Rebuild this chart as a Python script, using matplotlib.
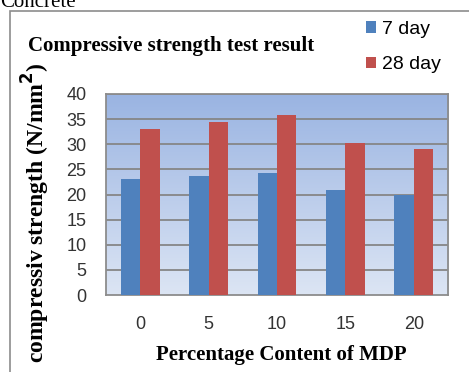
import matplotlib
matplotlib.use('Agg')
import matplotlib.pyplot as plt
import numpy as np
from matplotlib.patches import Rectangle

categories = ['0', '5', '10', '15', '20']
day7 = [23.0, 23.7, 24.3, 20.8, 20.0]
day28 = [33.0, 34.5, 35.8, 30.2, 29.1]
yticks = [0, 5, 10, 15, 20, 25, 30, 35, 40]

serif = ['Liberation Serif', 'DejaVu Serif']
sans = ['Liberation Sans', 'DejaVu Sans']

fig = plt.figure(figsize=(4.69, 3.72), dpi=100)
ax = fig.add_axes([106/469, 77/372, 342/469, 201/372])

# outer frame of the chart object
fig.patches.append(Rectangle((10/469, -0.1), 1.2, (372-11)/372 + 0.1,
                             transform=fig.transFigure, fill=False,
                             edgecolor='#8c8c8c', linewidth=1.2))

# gradient plot background (dark at top, light at bottom)
grad = np.linspace(0, 1, 256).reshape(-1, 1)
cmap = matplotlib.colors.LinearSegmentedColormap.from_list('bg', ['#9ab4e2', '#dce5f4'])
ax.imshow(grad, cmap=cmap, aspect='auto', extent=[-0.5, 4.5, 0, 40],
          origin='upper', zorder=0, interpolation='bilinear')

x = np.arange(len(categories))
w = 0.283
ax.bar(x - w/2, day7, width=w, color='#4f81bd', label='7 day', zorder=3)
ax.bar(x + w/2, day28, width=w, color='#c0504d', label='28 day', zorder=3)

ax.set_xlim(-0.5, 4.5)
ax.set_ylim(0, 40)
ax.set_yticks(yticks)
for y in yticks[1:]:
    ax.axhline(y, color='#868686', linewidth=1.3, zorder=2)
ax.set_xticks(x)
ax.set_xticklabels(categories)
ax.tick_params(length=0, labelsize=13)
ax.tick_params(axis='y', pad=14)
ax.tick_params(axis='x', pad=15)
for lab in ax.get_xticklabels() + ax.get_yticklabels():
    lab.set_family(sans)
    lab.set_color('#333333')
for s in ax.spines.values():
    s.set_color('#8c8c8c')
    s.set_linewidth(1.3)

fig.text(281/469, 1 - 355/372, 'Percentage Content of MDP', family=serif,
         fontweight='bold', fontsize=15, ha='center', va='center')
fig.text(36/469, 1 - 213/372, 'compressiv strength (N/mm$^{\\mathbf{2}}$)', rotation=90,
         family=serif, fontweight='bold', fontsize=17, ha='center', va='center')
fig.text(28/469, 1 - 46/372, 'Compressive strength test result', family=serif,
         fontweight='bold', fontsize=15, ha='left', va='center')
fig.text(0, 1 - 7/372, 'Concrete', family=serif, fontsize=15, ha='left', va='baseline')

fig.legend(loc='upper left', bbox_to_anchor=(366/469, 1 - 21/372), frameon=False,
           prop={'family': sans, 'size': 14}, handlelength=0.52, handleheight=0.52,
           handletextpad=0.3, labelspacing=0.95, borderpad=0, borderaxespad=0)

fig.savefig('out.png', dpi=100)
